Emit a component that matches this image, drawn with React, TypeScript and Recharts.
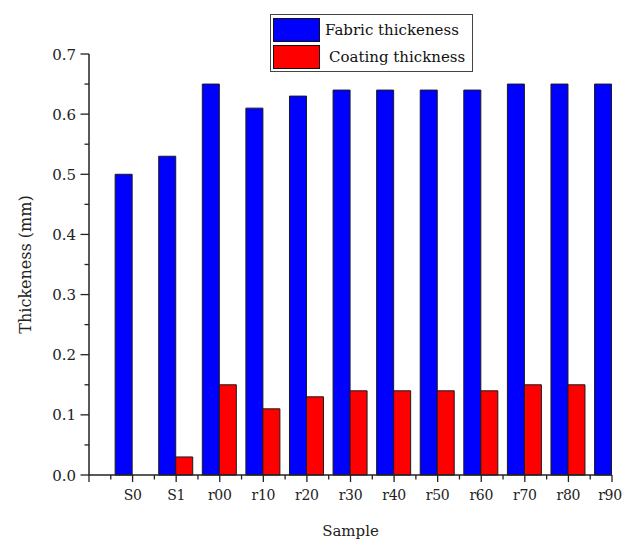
import React from 'react';
import { BarChart, Bar, XAxis, YAxis, Legend } from 'recharts';

const samples = ['S0', 'S1', 'r00', 'r10', 'r20', 'r30', 'r40', 'r50', 'r60', 'r70', 'r80', 'r90'];
const samplePositions = [1, 2, 3, 4, 5, 6, 7, 8, 9, 10, 11, 12];
const fabricThickness = [0.5, 0.53, 0.65, 0.61, 0.63, 0.64, 0.64, 0.64, 0.64, 0.65, 0.65, 0.65];
const coatingThickness = [0, 0.03, 0.15, 0.11, 0.13, 0.14, 0.14, 0.14, 0.14, 0.15, 0.15, null];
const xTicks = [0, 0.5, 1, 1.5, 2, 2.5, 3, 3.5, 4, 4.5, 5, 5.5, 6, 6.5, 7, 7.5, 8, 8.5, 9, 9.5, 10, 10.5, 11, 11.5, 12];
const yTicks = [0, 0.05, 0.1, 0.15, 0.2, 0.25, 0.3, 0.35, 0.4, 0.45, 0.5, 0.55, 0.6, 0.65, 0.7];
const legendOrder = ['Fabric thickeness', 'Coating thickness'];

const data = samples.map((s, i) => ({
  pos: samplePositions[i],
  name: s,
  fabric: fabricThickness[i],
  coating: coatingThickness[i],
}));

const FONT = '"DejaVu Serif", serif';
const INK = '#222';

const XTick = (props: any) => {
  const { x, y, payload } = props;
  const v = payload.value;
  const major = Number.isInteger(v);
  const idx = samplePositions.indexOf(v);
  const label = idx >= 0 ? samples[idx] : '';
  const isLast = idx === samples.length - 1;
  return (
    <g>
      <line x1={x} x2={x} y1={y} y2={y + (major ? 7 : 4.5)} stroke={INK} strokeWidth={1.3} />
      {label && (
        <text
          x={x}
          y={y + 25}
          dx={isLast ? -2 : 0}
          textAnchor="middle"
          fontFamily={FONT}
          fontSize={14}
          letterSpacing={-0.3}
          fill={INK}
        >
          {label}
        </text>
      )}
    </g>
  );
};

const YTick = (props: any) => {
  const { x, y, payload } = props;
  const v = payload.value;
  const major = Math.round(v * 100) % 10 === 0;
  return (
    <g>
      <line x1={x} x2={x - (major ? 8.5 : 4.5)} y1={y} y2={y} stroke={INK} strokeWidth={1.3} />
      {major && (
        <text x={x - 13} y={y + 5.5} textAnchor="end" fontFamily={FONT} fontSize={15} fill={INK}>
          {v.toFixed(1)}
        </text>
      )}
    </g>
  );
};

const LegendBox = (props: any) => {
  const payload = [...(props.payload || [])].sort(
    (a: any, b: any) => legendOrder.indexOf(a.value) - legendOrder.indexOf(b.value)
  );
  return (
    <div
      style={{
        position: 'relative',
        width: 203,
        height: 58,
        border: '1px solid #444',
        background: '#fff',
        boxSizing: 'border-box',
        fontFamily: FONT,
        fontSize: 15,
        color: '#111',
      }}
    >
      {payload.map((p: any, i: number) => (
        <div key={i} style={{ position: 'absolute', left: 2, top: 2 + i * 27, height: 25, display: 'flex', alignItems: 'center' }}>
          <div style={{ width: 47, height: 24, background: p.color, border: '1px solid #111', boxSizing: 'border-box' }} />
          <span style={{ marginLeft: i === 0 ? 5 : 9, whiteSpace: 'nowrap' }}>{p.value}</span>
        </div>
      ))}
    </div>
  );
};

export default function App() {
  return (
    <div style={{ width: 622, height: 541, overflow: 'hidden' }}>
      <style>{`html, body { margin: 0; padding: 0; overflow: hidden; }`}</style>
      <BarChart
        width={622}
        height={541}
        data={data}
        margin={{ top: 54, right: 10, bottom: 0, left: 0 }}
        barCategoryGap="10%"
        barGap={0}
      >
        <XAxis
          dataKey="pos"
          type="number"
          domain={[0, 12]}
          ticks={xTicks}
          interval={0}
          allowDataOverflow
          height={66}
          tickSize={0}
          tickMargin={0}
          tickLine={false}
          tick={<XTick />}
          axisLine={{ stroke: INK, strokeWidth: 1.5 }}
          label={{
            content: (p: any) => {
              const vb = p.viewBox;
              return (
                <text x={vb.x + vb.width / 2} y={vb.y + 61} textAnchor="middle" fontFamily={FONT} fontSize={15} fill={INK}>
                  Sample
                </text>
              );
            },
          }}
        />
        <YAxis
          type="number"
          domain={[0, 0.7]}
          ticks={yTicks}
          interval={0}
          width={89}
          tickSize={0}
          tickMargin={0}
          tickLine={false}
          tick={<YTick />}
          axisLine={{ stroke: INK, strokeWidth: 1.5 }}
          label={{
            content: (p: any) => {
              const vb = p.viewBox;
              const cx = vb.x + 25;
              const cy = vb.y + vb.height / 2;
              return (
                <text
                  x={cx}
                  y={cy}
                  transform={`rotate(-90 ${cx} ${cy})`}
                  textAnchor="middle"
                  dominantBaseline="central"
                  fontFamily={FONT}
                  fontSize={16}
                  fill={INK}
                >
                  Thickeness (mm)
                </text>
              );
            },
          }}
        />
        <Legend
          layout="vertical"
          align="center"
          verticalAlign="middle"
          wrapperStyle={{ left: 270, top: 14, width: 203 }}
          content={<LegendBox />}
        />
        <Bar dataKey="fabric" name="Fabric thickeness" fill="#0000ff" stroke="#1a1a1a" strokeWidth={1} isAnimationActive={false} />
        <Bar dataKey="coating" name="Coating thickness" fill="#ff0000" stroke="#1a1a1a" strokeWidth={1} isAnimationActive={false} />
      </BarChart>
    </div>
  );
}
